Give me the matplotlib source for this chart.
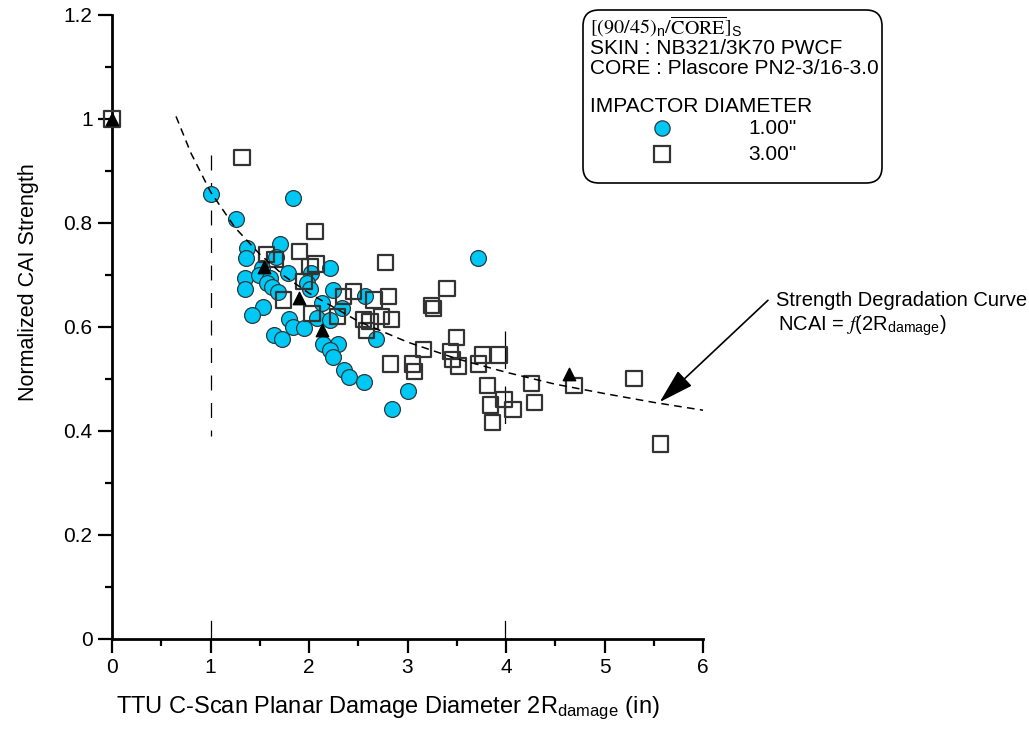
# Resistencia CAI normalizada frente al diametro de dano (C-Scan)
import matplotlib
matplotlib.use('Agg')
import matplotlib.pyplot as plt
from matplotlib.patches import FancyBboxPatch
from matplotlib.lines import Line2D

plt.rcParams['font.family'] = ['Liberation Sans', 'DejaVu Sans']
plt.rcParams['mathtext.fontset'] = 'stix'

# Impactor 1.00" (circulos)
x_d1 = [1.00, 1.84, 1.26, 1.37, 1.36, 1.71, 1.67, 1.52, 1.35, 1.35, 1.49, 1.60,
        1.79, 1.57, 1.62, 1.69, 1.53, 1.42, 2.02, 1.98, 2.01, 2.21, 2.24, 2.13,
        2.34, 2.57, 1.80, 1.84, 1.95, 2.08, 2.21, 1.64, 1.73, 2.14, 2.29, 2.21,
        2.24, 2.36, 2.41, 2.56, 2.68, 3.00, 2.84, 3.72]
y_d1 = [0.855, 0.849, 0.807, 0.752, 0.732, 0.759, 0.735, 0.713, 0.694, 0.673, 0.700, 0.694,
        0.704, 0.685, 0.677, 0.668, 0.639, 0.624, 0.703, 0.685, 0.674, 0.713, 0.672, 0.647,
        0.636, 0.660, 0.615, 0.600, 0.599, 0.617, 0.613, 0.585, 0.576, 0.568, 0.567, 0.556,
        0.543, 0.517, 0.503, 0.495, 0.577, 0.477, 0.443, 0.732]

# Impactor 3.00" (cuadrados)
x_d3 = [0.00, 1.32, 2.06, 1.90, 1.57, 1.655, 2.07, 2.01, 1.95, 2.78, 1.74, 2.35,
        2.45, 2.66, 2.81, 2.03, 2.29, 2.55, 2.62, 2.74, 2.84, 2.58, 3.40, 3.24,
        3.26, 3.16, 3.50, 3.44, 3.46, 3.52, 2.83, 3.05, 3.07, 3.76, 3.93, 3.72,
        3.81, 3.98, 3.84, 4.07, 3.86, 4.26, 4.29, 4.69, 5.30, 5.57]
y_d3 = [1.000, 0.926, 0.783, 0.745, 0.740, 0.730, 0.721, 0.716, 0.687, 0.724, 0.652, 0.658,
        0.668, 0.652, 0.658, 0.626, 0.620, 0.614, 0.611, 0.620, 0.615, 0.594, 0.674, 0.642,
        0.636, 0.556, 0.580, 0.553, 0.538, 0.525, 0.529, 0.529, 0.514, 0.546, 0.546, 0.529,
        0.487, 0.461, 0.450, 0.442, 0.416, 0.492, 0.455, 0.488, 0.501, 0.375]

# Promedios (triangulos)
x_prom = [0.00, 1.54, 1.90, 2.13, 4.64]
y_prom = [1.000, 0.716, 0.656, 0.594, 0.510]

# Curva de degradacion
x_curva = [0.65, 0.80, 1.00, 1.25, 1.50, 1.75, 2.00, 2.50, 3.00, 3.50, 4.00, 4.50, 5.00, 5.50, 6.00]
y_curva = [1.005, 0.935, 0.860, 0.791, 0.740, 0.698, 0.665, 0.611, 0.571, 0.539, 0.513, 0.490, 0.472, 0.455, 0.440]

x_ticks = [0, 1, 2, 3, 4, 5, 6]
y_ticks = [0, 0.2, 0.4, 0.6, 0.8, 1.0, 1.2]
y_tick_labels = ['0', '0.2', '0.4', '0.6', '0.8', '1', '1.2']

W, H = 1029, 735
def fx(px):
    return px / W
def fy(py):
    return 1 - py / H

fig = plt.figure(figsize=(W / 100, H / 100), dpi=100)
ax = fig.add_axes([fx(112), fy(639), fx(703) - fx(112), fy(15) - fy(639)])

# lineas verticales de referencia
ax.plot([1, 1], [0.93, 0.39], color='black', lw=0.9, dashes=(12, 10), zorder=1)
ax.plot([3.985, 3.985], [0.593, 0.395], color='black', lw=0.9, dashes=(30, 14), zorder=1)
ax.plot([1, 1], [0, 0.035], color='black', lw=0.9, zorder=1)
ax.plot([3.985, 3.985], [0, 0.035], color='black', lw=0.9, zorder=1)

ax.scatter(x_d1, y_d1, s=130, marker='o', facecolor='#00C8F4', edgecolor='#2b3a3e',
           linewidth=0.9, zorder=3)
ax.scatter(x_d3, y_d3, s=120, marker='s', facecolor='none', edgecolor='#333333',
           linewidth=1.6, zorder=4, clip_on=False)
ax.plot(x_curva, y_curva, color='black', lw=1.1, dashes=(5, 3.5), zorder=5)
ax.scatter(x_prom, y_prom, s=80, marker='^', color='black', zorder=6, clip_on=False)

ax.set_xlim(0, 6)
ax.set_ylim(0, 1.2)
ax.set_xticks(x_ticks)
ax.set_xticks([0.5, 1.5, 2.5, 3.5, 4.5, 5.5], minor=True)
ax.set_yticks(y_ticks)
ax.set_yticklabels(y_tick_labels)
ax.set_yticks([0.1, 0.3, 0.5, 0.7, 0.9, 1.1], minor=True)
ax.tick_params(which='major', direction='out', length=10, width=1.6, labelsize=15, pad=4)
ax.tick_params(which='minor', direction='out', length=5, width=1.6)
for s in ['top', 'right']:
    ax.spines[s].set_visible(False)
for s in ['left', 'bottom']:
    ax.spines[s].set_linewidth(2)

ax.set_xlabel(r'TTU C-Scan Planar Damage Diameter 2R$_{\mathregular{damage}}$ (in)', fontsize=17)
ax.xaxis.set_label_coords(0.467, -0.088)
ax.set_ylabel('Normalized CAI Strength', fontsize=15.5)
ax.yaxis.set_label_coords(-0.124, 0.572)

# flecha y texto de la curva
ax.annotate('', xy=(5.54, 0.452), xytext=(6.68, 0.655),
            arrowprops=dict(arrowstyle='-|>,head_length=1.1,head_width=0.32',
                            color='black', lw=1.2, mutation_scale=20),
            annotation_clip=False)
fig.text(fx(776), fy(300), 'Strength Degradation Curve', fontsize=14.5, va='center', ha='left')
fig.text(fx(778), fy(326), r'NCAI = $\mathit{f}$(2R$_{\mathregular{damage}}$)',
         fontsize=14.5, va='center', ha='left')

# cuadro de leyenda
caja = FancyBboxPatch((5.83, 5.52), 2.99, 1.73, boxstyle='round,pad=0,rounding_size=0.16',
                      transform=fig.dpi_scale_trans, facecolor='white', edgecolor='black',
                      lw=1.2)
fig.patches.append(caja)
fig.text(fx(590), fy(27), r'$[(90/45)_{\mathregular{n}}/\overline{\mathrm{CORE}}]_{\mathregular{S}}$',
         fontsize=14.5, va='center', ha='left')
fig.text(fx(590), fy(48), 'SKIN : NB321/3K70 PWCF', fontsize=15, va='center', ha='left')
fig.text(fx(590), fy(68), 'CORE : Plascore PN2-3/16-3.0', fontsize=15, va='center', ha='left')
fig.text(fx(590), fy(106), 'IMPACTOR DIAMETER', fontsize=15, va='center', ha='left')
fig.lines.append(Line2D([fx(662)], [fy(128)], marker='o', markersize=11, color='#00C8F4',
                        markeredgecolor='#2b3a3e', markeredgewidth=0.9,
                        transform=fig.transFigure))
fig.lines.append(Line2D([fx(662)], [fy(154)], marker='s', markersize=11, color='none',
                        markeredgecolor='#333333', markeredgewidth=1.6,
                        transform=fig.transFigure))
fig.text(fx(748), fy(128), '1.00"', fontsize=15, va='center', ha='left')
fig.text(fx(748), fy(154), '3.00"', fontsize=15, va='center', ha='left')

plt.savefig('out.png', dpi=100)
